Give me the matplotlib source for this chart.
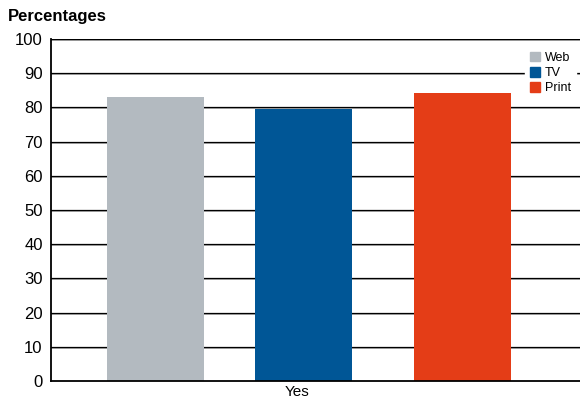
import matplotlib
matplotlib.use("Agg")
import matplotlib.pyplot as plt
from matplotlib import font_manager as fm
from matplotlib.patches import Patch

categories = ["Yes"]
series = ["Web", "TV", "Print"]
values = [83.0, 79.5, 84.2]
colors = ["#B3BAC0", "#005696", "#E43D17"]
yticks = [0, 10, 20, 30, 40, 50, 60, 70, 80, 90, 100]

names = {f.name for f in fm.fontManager.ttflist}
fam = "Liberation Sans Narrow" if "Liberation Sans Narrow" in names else "Liberation Sans"
plt.rcParams["font.family"] = [fam, "DejaVu Sans"]

fig = plt.figure(figsize=(5.8, 4.03), dpi=100)
W, H = 580, 403
ax = fig.add_axes([51 / W, 22 / H, 529 / W, 342 / H])

# layout: bar centres (axis units) and width
offsets = [104.5, 252.5, 411.5]
width = 97
for s, v, c, x in zip(series, values, colors, offsets):
    ax.bar(x, v, width=width, color=c, label=s, zorder=3)

for t in yticks[1:]:
    ax.plot([0, 1], [t - 0.3, t - 0.3], color="#aaaaaa", lw=0.7, zorder=1, transform=ax.get_yaxis_transform())
    ax.plot([0, 1], [t, t], color="black", lw=0.9, zorder=2, transform=ax.get_yaxis_transform())

ax.set_xlim(0, 529)
ax.set_ylim(0, 100)
ax.set_yticks(yticks)
ax.set_yticklabels([str(t) for t in yticks], fontsize=12)
ax.set_xticks([246])
ax.set_xticklabels(categories, fontsize=11)
ax.tick_params(axis="both", length=0, pad=6)
ax.tick_params(axis="x", pad=3)
for sp in ["top", "right"]:
    ax.spines[sp].set_visible(False)
ax.spines["left"].set_linewidth(1.3)
ax.spines["bottom"].set_linewidth(1.3)
ax.spines["bottom"].set_zorder(4)

handles = [Patch(color=c, label=s) for s, c in zip(series, colors)]
leg = ax.legend(handles=handles, loc="upper right", bbox_to_anchor=(1.0, 0.988), frameon=True,
                framealpha=1, edgecolor="white", fontsize=9, handlelength=0.8, handleheight=0.8,
                handletextpad=0.4, labelspacing=0.25, borderaxespad=0.3)
leg.set_zorder(5)

fig.text(8 / W, 1 - 16 / H, "Percentages", fontsize=12, fontweight="bold", va="center", ha="left")

fig.savefig("out.png", dpi=100)
